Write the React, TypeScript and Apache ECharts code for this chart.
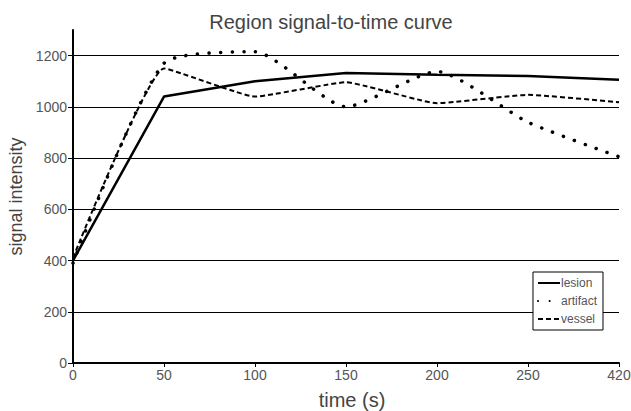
import React, { useEffect, useRef } from "react";
import * as echarts from "echarts";

const timeLabels = ["0", "50", "100", "150", "200", "250", "420"];
const lesion = [400, 1040, 1100, 1132, 1125, 1120, 1106];
const artifact = [390, 1170, 1215, 1000, 1138, 940, 805];
const vessel = [410, 1150, 1040, 1096, 1014, 1047, 1018];
const yTicks = [0, 200, 400, 600, 800, 1000, 1200];

export default function App() {
  const ref = useRef<HTMLDivElement>(null);
  useEffect(() => {
    if (!ref.current) return;
    const chart = echarts.init(ref.current, null, { renderer: "svg" });
    const font = "Liberation Sans, Arial, sans-serif";
    chart.setOption({
      animation: false,
      backgroundColor: "#fff",
      textStyle: { fontFamily: font },
      title: {
        text: "Region signal-to-time curve",
        left: 326,
        textAlign: "center",
        top: 7,
        textStyle: { fontSize: 20, fontWeight: "normal", color: "#444", fontFamily: font },
      },
      grid: { left: 73, right: 12, top: 30, bottom: 48, containLabel: false, outerBoundsMode: "none" },
      legend: {
        orient: "vertical",
        right: 28,
        top: 272,
        itemWidth: 22,
        itemHeight: 10,
        itemGap: 6,
        padding: [5, 6, 5, 4],
        borderColor: "#000",
        borderWidth: 1,
        backgroundColor: "#fff",
        itemStyle: { opacity: 0 },
        textStyle: { fontSize: 12, color: "#555", padding: [0, 0, 0, -4] },
        data: ["lesion", "artifact", "vessel"],
      },
      xAxis: {
        type: "category",
        data: timeLabels,
        boundaryGap: false,
        name: "time (s)",
        nameLocation: "middle",
        nameGap: 27,
        nameTextStyle: { fontSize: 20, color: "#444", padding: [0, 0, 0, 12] },
        axisLine: { lineStyle: { color: "#000", width: 2 } },
        axisTick: { length: 4, lineStyle: { color: "#000" } },
        axisLabel: { fontSize: 14, color: "#555", margin: 5 },
        splitLine: { show: false },
      },
      yAxis: {
        type: "value",
        min: 0,
        max: 1300,
        interval: 100,
        name: "signal intensity",
        nameLocation: "middle",
        nameGap: 46,
        nameTextStyle: { fontSize: 18, color: "#444" },
        axisLine: { show: true, lineStyle: { color: "#000", width: 2 } },
        axisTick: { show: true, length: 5, lineStyle: { color: "#000" }, customValues: yTicks },
        axisLabel: {
          fontSize: 14,
          color: "#555",
          margin: 6,
          customValues: yTicks,
          formatter: (v: number) => String(v),
        },
        splitLine: { show: true, lineStyle: { color: "#000", width: 1 } },
      },
      series: [
        {
          name: "lesion",
          type: "line",
          data: lesion,
          symbol: "none",
          lineStyle: { color: "#000", width: 2.5, type: "solid" },
          itemStyle: { color: "#000" },
        },
        {
          name: "artifact",
          type: "line",
          data: artifact,
          symbol: "none",
          smooth: 0.2,
          lineStyle: { color: "#000", width: 3.5, type: [0.1, 11.5], cap: "round" },
          itemStyle: { color: "#000" },
        },
        {
          name: "vessel",
          type: "line",
          data: vessel,
          symbol: "none",
          smooth: 0.12,
          lineStyle: { color: "#000", width: 2, type: [5, 3] },
          itemStyle: { color: "#000" },
        },
      ],
    });
    return () => chart.dispose();
  }, []);
  return <div ref={ref} style={{ width: 631, height: 411, position: "absolute", left: 0, top: 0 }} />;
}
